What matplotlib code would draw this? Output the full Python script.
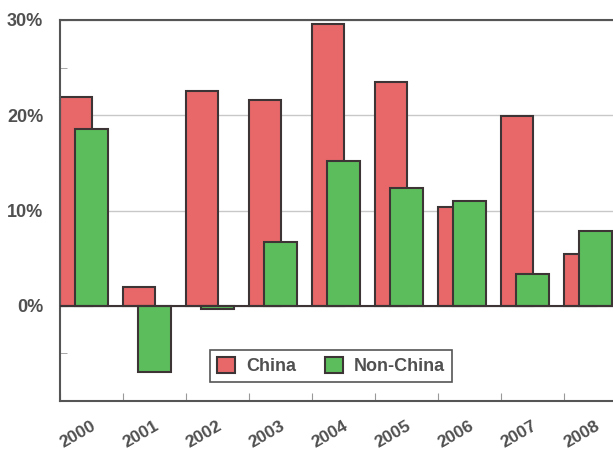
import matplotlib.pyplot as plt
import numpy as np

years = ['2000', '2001', '2002', '2003', '2004', '2005', '2006', '2007', '2008']
china = [21.9, 2.0, 22.5, 21.6, 29.6, 23.5, 10.4, 19.9, 5.4]
non_china = [18.6, -7.0, -0.3, 6.7, 15.2, 12.4, 11.0, 3.3, 7.8]

red = '#e8686a'
green = '#5cbd5c'
edge = '#3d3535'
text_col = '#505050'

plt.rcParams['font.family'] = ['Liberation Sans', 'DejaVu Sans']

fig = plt.figure(figsize=(6.13, 4.5), dpi=100)
# axes runs past the right edge of the picture, like the scanned original
ax = fig.add_axes([60 / 613, 1 - 401 / 450, 567 / 613, 381 / 450])

x = np.arange(len(years))
ax.bar(x - 0.25, china, width=0.51, color=red, edgecolor=edge, linewidth=1.5,
       label='China', zorder=2)
ax.bar(x, non_china, width=0.51, color=green, edgecolor=edge, linewidth=1.5,
       label='Non-China', zorder=3)

ax.set_xlim(-0.5, 8.5)
ax.set_ylim(-10, 30)
ax.set_yticks([0, 10, 20, 30])
ax.set_yticklabels(['0%', '10%', '20%', '30%'])
ax.set_yticks([-5, 25], minor=True)
ax.yaxis.grid(True, color='#c8c8c8', linewidth=1)
ax.axhline(0, color=edge, linewidth=1.5, zorder=4)
ax.tick_params(axis='y', which='both', direction='in', length=5, color='#999999',
               labelsize=13, labelcolor=text_col, pad=12)
for lab in ax.get_yticklabels():
    lab.set_fontweight('bold')

# category boundary ticks on the bottom
ax.set_xticks(np.arange(-0.5, 9, 1))
ax.set_xticklabels([])
ax.tick_params(axis='x', direction='in', length=6, color='#999999')
for i, yr in enumerate(years):
    ax.annotate(yr, xy=(i, -10), xycoords='data', xytext=(-10, -24),
                textcoords='offset points', rotation=30, ha='center', va='center',
                rotation_mode='anchor', fontsize=12.5, fontweight='bold',
                color=text_col, annotation_clip=False)

for s in ['left', 'bottom', 'top']:
    ax.spines[s].set_color('#555555')
    ax.spines[s].set_linewidth(1.5)
ax.spines['right'].set_visible(False)

leg = ax.legend(loc='center', bbox_to_anchor=(331 / 613, 1 - 366 / 450),
                bbox_transform=fig.transFigure, ncol=2, fancybox=False,
                edgecolor='#555555', framealpha=1, handlelength=1.0,
                handleheight=1.0, columnspacing=1.6, handletextpad=0.6,
                prop={'size': 13, 'weight': 'bold'})
leg.get_frame().set_linewidth(1.2)
for t in leg.get_texts():
    t.set_color(text_col)

fig.savefig('out.png', dpi=100)
